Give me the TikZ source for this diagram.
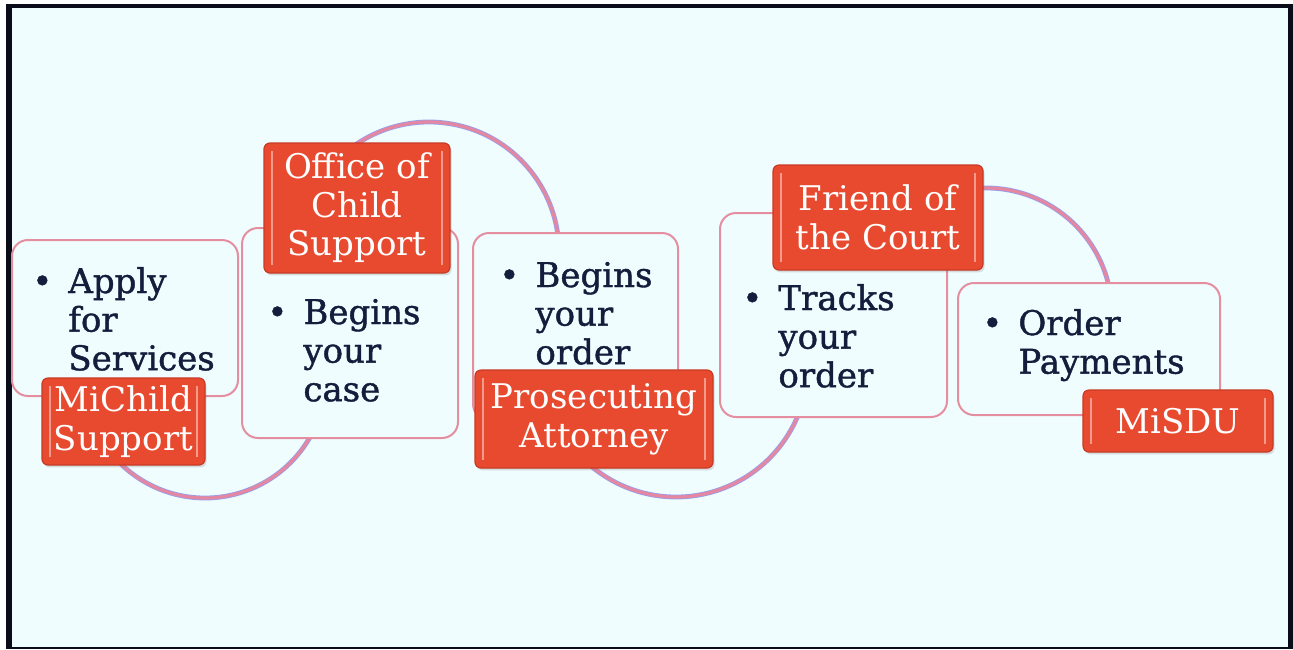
\documentclass[tikz,border=0pt]{standalone}
\usepackage{fontspec}
\setmainfont{DejaVu Serif}
\newfontfamily\cardfont{DejaVu Serif}[FakeBold=1.2]
\usetikzlibrary{shadows}
\definecolor{azure}{RGB}{240,253,254}
\definecolor{framedark}{RGB}{10,13,25}
\definecolor{boxline}{RGB}{228,142,160}
\definecolor{tagred}{RGB}{232,74,48}
\definecolor{tagedge}{RGB}{200,58,36}
\definecolor{inkblue}{RGB}{18,30,60}
\definecolor{linkpink}{RGB}{228,135,162}
\definecolor{linkblue}{RGB}{150,160,236}
\newcommand{\bul}[1]{\begin{tabular}[t]{@{}l@{}}\llap{\textbullet\hspace{8pt}}#1\end{tabular}}
\begin{document}
\begin{tikzpicture}[x=0.5pt,y=-0.5pt,
	card/.style={draw=boxline,line width=1pt,fill=azure,rounded corners=8pt,inner sep=0pt},
	tag/.style={draw=tagedge,line width=0.6pt,fill=tagred,rounded corners=3pt,text=white,
		align=center,inner sep=0pt,font=\fontsize{17}{19.3}\selectfont,
		drop shadow={opacity=0.25,shadow xshift=0.8pt,shadow yshift=-1.2pt},
		path picture={\draw[white,opacity=0.45,line width=1.2pt]
			([xshift=4pt,yshift=-4pt]path picture bounding box.north west) -- ([xshift=4pt,yshift=4pt]path picture bounding box.south west)
			([xshift=-4pt,yshift=-4pt]path picture bounding box.north east) -- ([xshift=-4pt,yshift=4pt]path picture bounding box.south east);}},
	txt/.style={anchor=base west,inner sep=0pt,text=inkblue,font=\cardfont\fontsize{17}{19.3}\selectfont},
	link/.style={draw=linkblue,line width=0.4pt,double=linkpink,double distance=1.6pt}]
	\useasboundingbox (0,0) rectangle (1293,649);
	\fill[white] (0,0) rectangle (1293,649);
	\fill[framedark] (6,4) rectangle (1293,649);
	\fill[azure] (12,8) rectangle (1288,647);
	% circles behind the blocks
	\coordinate (c1) at (205,377);
	\coordinate (c2) at (429,252);
	\coordinate (c3) at (676,365);
	\coordinate (c4) at (986,314);
	\draw[link] (c1) ++(25:121) arc (25:140:121);
	\draw[link] (c2) ++(-127:130) arc (-127:-5:130);
	\draw[link] (c3) ++(20:132) arc (20:132:132);
	\draw[link] (c4) ++(-100:126) arc (-100:-10:126);
	% blocks
	\node[card,minimum width=113pt,minimum height=78pt] (b1) at (125,318) {};
	\node[card,minimum width=108pt,minimum height=105pt] (b2) at (350,333) {};
	\node[card,minimum width=102.5pt,minimum height=93.5pt] (b3) at (575.5,326.5) {};
	\node[card,minimum width=113.5pt,minimum height=102pt] (b4) at (833.5,315) {};
	\node[card,minimum width=131pt,minimum height=66pt] (b5) at (1089,349) {};
	\node[txt] (t1) at (68,293) {\bul{Apply\\for\\Services}};
	\node[txt] (t2) at (303,324) {\bul{Begins\\your\\case}};
	\node[txt] (t3) at (535,287) {\bul{Begins\\your\\order}};
	\node[txt] (t4) at (778,310) {\bul{Tracks\\your\\order}};
	\node[txt] (t5) at (1018,335) {\bul{Order\\Payments}};
	% labels
	\node[tag,minimum width=81.5pt,minimum height=43.5pt] (l1) at (123.5,421.5) {MiChild\\Support};
	\node[tag,minimum width=93pt,minimum height=65pt] (l2) at (357,208) {Office of\\Child\\Support};
	\node[tag,minimum width=119pt,minimum height=49pt] (l3) at (594,419) {Prosecuting\\Attorney};
	\node[tag,minimum width=105pt,minimum height=52.5pt] (l4) at (878,217.5) {Friend of\\the Court};
	\node[tag,minimum width=95pt,minimum height=31pt] (l5) at (1178,421) {MiSDU};
\end{tikzpicture}
\end{document}
